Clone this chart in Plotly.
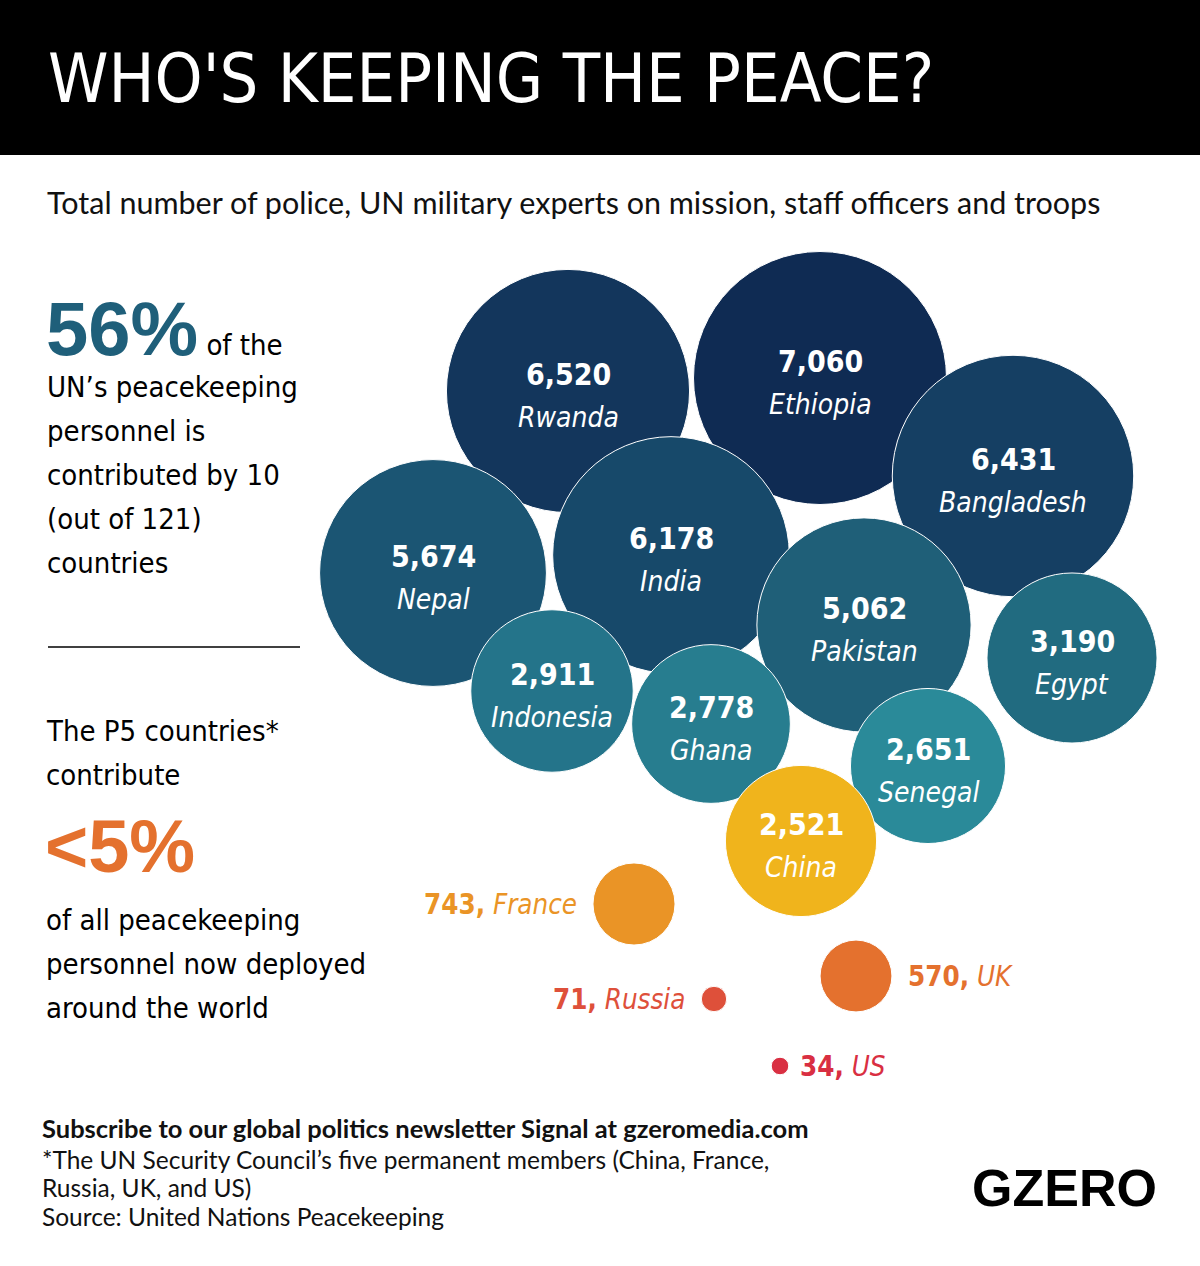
import math
import plotly.graph_objects as go

# %% data: UN peacekeeping personnel by contributing country
countries = ["Ethiopia", "Rwanda", "Bangladesh", "India", "Nepal", "Egypt", "Pakistan",
             "Ghana", "Indonesia", "Senegal", "China", "France", "UK", "Russia", "US"]
personnel = [7060, 6520, 6431, 6178, 5674, 3190, 5062,
             2778, 2911, 2651, 2521, 743, 570, 71, 34]

# packed layout of the bubbles (page pixels) and styling
bubble_x = [820, 568, 1013, 671, 433, 1072, 864, 711, 552, 928, 801, 634, 856, 714, 780]
bubble_y = [378, 391, 476, 555, 573, 658, 625, 724, 691, 766, 841, 904, 976, 999, 1066]
bubble_colors = ["#0f2b53", "#13365c", "#153f63", "#17496a", "#1b5573", "#216b80", "#1f5f78",
                 "#277d8f", "#24748a", "#2a8a99", "#f0b41c", "#ea9426", "#e4712e", "#de503a", "#d92f42"]
label_side = ["in"] * 11 + ["left", "right", "left", "right"]

left_top = ["UN’s peacekeeping", "personnel is", "contributed by 10", "(out of 121)", "countries"]
left_bottom_a = ["The P5 countries*", "contribute"]
left_bottom_b = ["of all peacekeeping", "personnel now deployed", "around the world"]
footnotes = ["*The UN Security Council’s five permanent members (China, France,",
             "Russia, UK, and US)",
             "Source: United Nations Peacekeeping"]

W, H = 1200, 1266
max_d = 253
sizeref = 2 * max(personnel) / max_d ** 2
NARROW = "Liberation Sans Narrow, Arial Narrow, DejaVu Sans Condensed, Roboto Condensed, Roboto"

fig = go.Figure()
fig.add_trace(go.Scatter(
    x=bubble_x, y=bubble_y, mode="markers",
    marker=dict(size=personnel, sizemode="area", sizeref=sizeref,
                color=bubble_colors, opacity=1, line=dict(color="white", width=1)),
    hoverinfo="text", text=countries, showlegend=False))

ann = []
for c, v, x, y, col, side in zip(countries, personnel, bubble_x, bubble_y, bubble_colors, label_side):
    r = math.sqrt(v / (2 * sizeref))
    if side == "in":
        # value on top, country name below
        ann.append(dict(x=x, y=y, yshift=17, xref="x", yref="y", showarrow=False,
                        text=f"<b>{v:,}</b>", font=dict(family=NARROW, size=30, color="white")))
        ann.append(dict(x=x, y=y, yshift=-26, xref="x", yref="y", showarrow=False,
                        text=f"<i>{c}</i>", font=dict(family=NARROW, size=28, color="white")))
    else:
        shift = r + 14
        ann.append(dict(x=x, y=y, xref="x", yref="y", showarrow=False,
                        xanchor="right" if side == "left" else "left",
                        xshift=-shift if side == "left" else shift - 5 if v < 50 else shift,
                        text=f"<b>{v:,},</b> <i>{c}</i>",
                        font=dict(family=NARROW, size=27.5, color=col)))

# header
fig.add_shape(type="rect", xref="x", yref="y", x0=0, x1=W, y0=0, y1=155,
              fillcolor="black", line_width=0, layer="below")
ann.append(dict(x=46, y=78, xref="x", yref="y", xanchor="left", showarrow=False,
                text="WHO'S KEEPING THE PEACE?",
                font=dict(family=NARROW, size=68, color="white")))
ann.append(dict(x=45, y=202, xref="x", yref="y", xanchor="left", showarrow=False,
                text="Total number of police, UN military experts on mission, staff officers and troops",
                font=dict(family="Lato", size=30.5, color="#111111")))

# left-hand commentary
ann.append(dict(x=44, y=355, xref="x", yref="y", xanchor="left", yanchor="bottom", yshift=-18,
                showarrow=False,
                text="<span style='font-family:Liberation Sans;font-size:76px;color:#1f5f7a'><b>56%</b></span> of the",
                font=dict(family=NARROW, size=29, color="black")))
for i, t in enumerate(left_top):
    ann.append(dict(x=45, y=387 + 44 * i, xref="x", yref="y", xanchor="left", showarrow=False,
                    text=t, font=dict(family=NARROW, size=29, color="black")))
fig.add_shape(type="line", xref="x", yref="y", x0=48, x1=300, y0=647, y1=647,
              line=dict(color="black", width=1.5))
for i, t in enumerate(left_bottom_a):
    ann.append(dict(x=44, y=731 + 44 * i, xref="x", yref="y", xanchor="left", showarrow=False,
                    text=t, font=dict(family=NARROW, size=29, color="black")))
ann.append(dict(x=43, y=846, xref="x", yref="y", xanchor="left", showarrow=False,
                text="<b><5%</b>", font=dict(family="Liberation Sans", size=74, color="#e4712e")))
for i, t in enumerate(left_bottom_b):
    ann.append(dict(x=44, y=920 + 44 * i, xref="x", yref="y", xanchor="left", showarrow=False,
                    text=t, font=dict(family=NARROW, size=29, color="black")))

# footer
ann.append(dict(x=40, y=1128, xref="x", yref="y", xanchor="left", showarrow=False,
                text="<b>Subscribe to our global politics newsletter Signal at gzeromedia.com</b>",
                font=dict(family="Lato", size=25.5, color="#111111")))
for i, t in enumerate(footnotes):
    ann.append(dict(x=40, y=1159 + 28.5 * i, xref="x", yref="y", xanchor="left", showarrow=False,
                    text=t, font=dict(family="Lato", size=24.5, color="#111111")))
ann.append(dict(x=1159, y=1188, xref="x", yref="y", xanchor="right", showarrow=False,
                text="<b>GZERO</b>", font=dict(family="Liberation Sans", size=52, color="black")))

fig.update_layout(
    width=W, height=H, margin=dict(l=0, r=0, t=0, b=0),
    paper_bgcolor="white", plot_bgcolor="white",
    xaxis=dict(range=[0, W], visible=False, fixedrange=True),
    yaxis=dict(range=[H, 0], visible=False, fixedrange=True),
    annotations=ann, showlegend=False)

# drop the browser's default body margin so the figure sits at the page corner
fig.write_html("out.html", config={"displayModeBar": False},
               post_script="document.body.style.margin='0';")
